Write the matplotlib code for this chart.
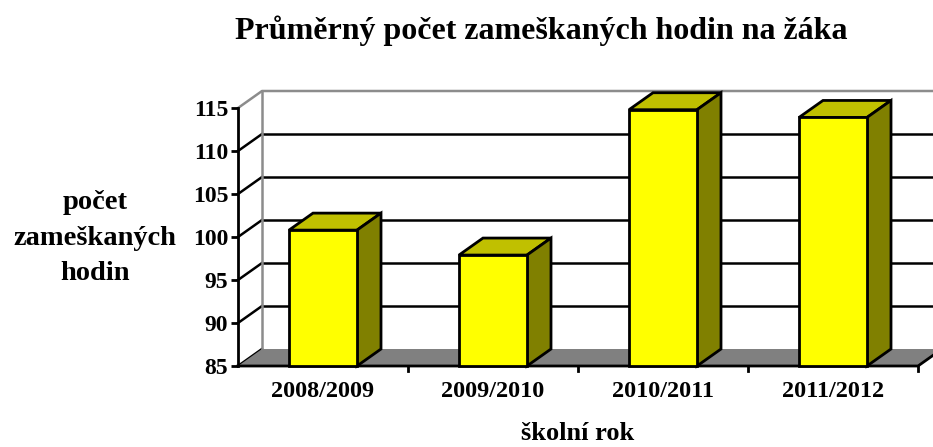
import matplotlib
matplotlib.use("Agg")
import matplotlib.pyplot as plt
from matplotlib.patches import Polygon
import numpy as np

categories = ["2008/2009", "2009/2010", "2010/2011", "2011/2012"]
values = [100.8, 97.9, 114.8, 113.9]
y_ticks = [85, 90, 95, 100, 105, 110, 115]
title = "Průměrný počet zameškaných hodin na žáka"
ylabel = "počet\nzameškaných\nhodin"
xlabel = "školní rok"

FONT = "Liberation Serif"
W, H = 933, 447
fig = plt.figure(figsize=(W / 100, H / 100), dpi=100)
ax = fig.add_axes([238 / W, (H - 366) / H, 680 / W, 258 / H])
ymin, ymax = 85, 115
ax.set_xlim(-0.5, len(categories) - 0.5)
ax.set_ylim(ymin, ymax)
for s in ax.spines.values():
    s.set_visible(False)

dx = 24 / 170.0          # depth offset in category units
dy = 17 / 8.6            # depth offset in value units
x0, x1 = -0.5, len(categories) - 0.5

# back wall
wall = Polygon([(x0 + dx, ymin + dy), (x1 + dx, ymin + dy), (x1 + dx, ymax + dy), (x0 + dx, ymax + dy)],
               closed=True, facecolor="white", edgecolor="none", clip_on=False, zorder=0)
ax.add_patch(wall)
# gridlines on back wall
for v in y_ticks[1:-1]:
    ax.plot([x0 + dx, x1 + dx], [v + dy, v + dy], color="black", lw=1.8, clip_on=False, zorder=1)
# side-wall lines
for v in y_ticks[:-1]:
    ax.plot([x0, x0 + dx], [v, v + dy], color="black", lw=1.8, clip_on=False, zorder=1)
# gray outline of walls
ax.plot([x0, x0 + dx, x1 + dx], [ymax, ymax + dy, ymax + dy], color="#8c8c8c", lw=1.8, clip_on=False, zorder=1)
ax.plot([x0 + dx, x0 + dx], [ymin + dy, ymax + dy], color="#8c8c8c", lw=1.8, clip_on=False, zorder=1)
# floor
floor = Polygon([(x0, ymin), (x1, ymin), (x1 + dx, ymin + dy), (x0 + dx, ymin + dy)],
                closed=True, facecolor="#808080", edgecolor="none", clip_on=False, zorder=2)
ax.add_patch(floor)
ax.plot([x0, x1, x1 + dx], [ymin, ymin, ymin + dy], color="black", lw=2, clip_on=False, zorder=3)
ax.plot([x0, x0], [ymin, ymax], color="black", lw=2, clip_on=False, zorder=3)

# bars
bw = 0.4
xs = np.arange(len(categories))
ax.bar(xs, [v - ymin for v in values], bottom=ymin, width=bw, color="#FFFF00",
       edgecolor="black", linewidth=2, zorder=5, clip_on=False)
for x, v in zip(xs, values):
    l, r = x - bw / 2, x + bw / 2
    top = Polygon([(l, v), (r, v), (r + dx, v + dy), (l + dx, v + dy)], closed=True,
                  facecolor="#C0C000", edgecolor="black", lw=2, clip_on=False, zorder=4, joinstyle="miter")
    side = Polygon([(r, ymin), (r + dx, ymin + dy), (r + dx, v + dy), (r, v)], closed=True,
                   facecolor="#808000", edgecolor="black", lw=2, clip_on=False, zorder=4, joinstyle="miter")
    ax.add_patch(top)
    ax.add_patch(side)

ax.set_yticks(y_ticks)
ax.set_yticklabels([str(t) for t in y_ticks], fontsize=17, fontweight="bold", family=FONT)
ax.set_xticks(xs)
ax.set_xticklabels(categories, fontsize=17.5, fontweight="bold", family=FONT)
ax.tick_params(axis="x", length=0, pad=11)
ax.tick_params(axis="y", length=5, width=2, pad=2, direction="out")
# category boundary ticks
for b in np.arange(0.5, len(categories) + 0.5, 1.0):
    ax.plot([b, b], [ymin, ymin - 0.6], color="black", lw=2, clip_on=False, zorder=3)

fig.text(541 / W, 1 - 31 / H, title, ha="center", va="center", fontsize=23, fontweight="bold", family=FONT)
fig.text(95 / W, 1 - 238 / H, ylabel, ha="center", va="center", fontsize=20.5, fontweight="bold",
         family=FONT, linespacing=1.55)
fig.text(578 / W, 1 - 434 / H, xlabel, ha="center", va="center", fontsize=19, fontweight="bold", family=FONT)

fig.savefig("out.png", dpi=100)
